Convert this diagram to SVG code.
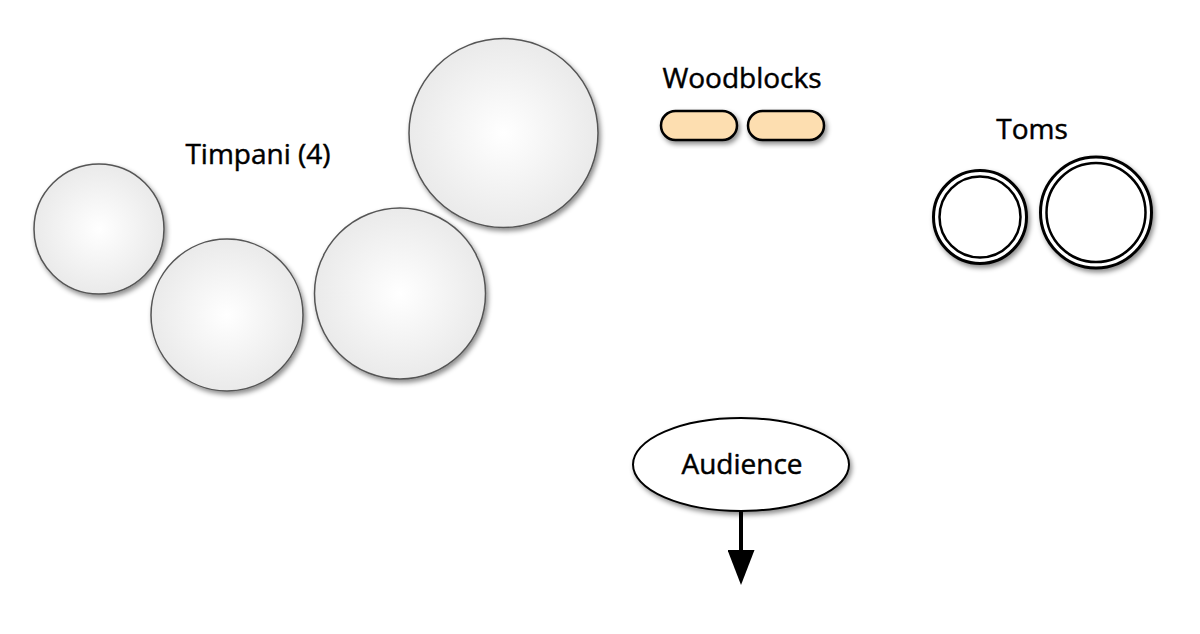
<svg xmlns="http://www.w3.org/2000/svg" width="1200" height="634" viewBox="0 0 1200 634">
<style>
.lbl{font-family:"Open Sans","Noto Sans","DejaVu Sans",sans-serif;font-size:28px;fill:#000;stroke:#000;stroke-width:0.45;text-anchor:middle}
.timp{fill:url(#tg);stroke:#555;stroke-width:1.5;filter:url(#sh)}
.wb{fill:#fddeb0;stroke:#000;stroke-width:2.5;filter:url(#sh)}
.tomo{fill:#fff;stroke:#000;stroke-width:3}
.tomi{fill:#fff;stroke:#000;stroke-width:2.5}
</style>
<defs>
<radialGradient id="tg" cx="0.5" cy="0.5" r="0.5">
<stop offset="0" stop-color="#ffffff"/>
<stop offset="1" stop-color="#eaeaea"/>
</radialGradient>
<filter id="sh" x="-20%" y="-20%" width="150%" height="150%">
<feDropShadow dx="2" dy="3" stdDeviation="2.5" flood-color="#000" flood-opacity="0.45"/>
</filter>
<marker id="ah" viewBox="0 0 35 27" refX="0" refY="13.5" markerWidth="35" markerHeight="27" markerUnits="userSpaceOnUse" orient="auto">
<path d="M0,0 L35,13.5 L0,27 Z" fill="#000"/>
</marker>
</defs>
<rect width="1200" height="634" fill="#fff"/>
<g id="timpani">
<text class="lbl" x="258" y="164">Timpani (4)</text>
<circle class="timp" cx="99" cy="229" r="65"/>
<circle class="timp" cx="227" cy="315" r="76"/>
<circle class="timp" cx="400" cy="293.5" r="85.5"/>
<circle class="timp" cx="503.5" cy="133" r="94.5"/>
</g>
<g id="woodblocks">
<text class="lbl" x="742" y="88">Woodblocks</text>
<rect class="wb" x="661" y="111" width="76" height="29" rx="14.5"/>
<rect class="wb" x="748" y="111" width="76" height="29" rx="14.5"/>
</g>
<g id="toms">
<text class="lbl" x="1032" y="139">Toms</text>
<g filter="url(#sh)">
<circle class="tomo" cx="980" cy="217" r="46.5"/>
<circle class="tomi" cx="980" cy="217" r="40.5"/>
<circle class="tomo" cx="1096" cy="212.5" r="55.5"/>
<circle class="tomi" cx="1096" cy="212.5" r="49.5"/>
</g>
</g>
<g id="connectors">
<line x1="741" y1="510" x2="741" y2="550" stroke="#000" stroke-width="4" marker-end="url(#ah)"/>
</g>
<g id="audience">
<ellipse cx="741" cy="464.5" rx="108" ry="46.5" fill="#fff" stroke="#000" stroke-width="2" filter="url(#sh)"/>
<text class="lbl" x="742" y="474">Audience</text>
</g>
</svg>
